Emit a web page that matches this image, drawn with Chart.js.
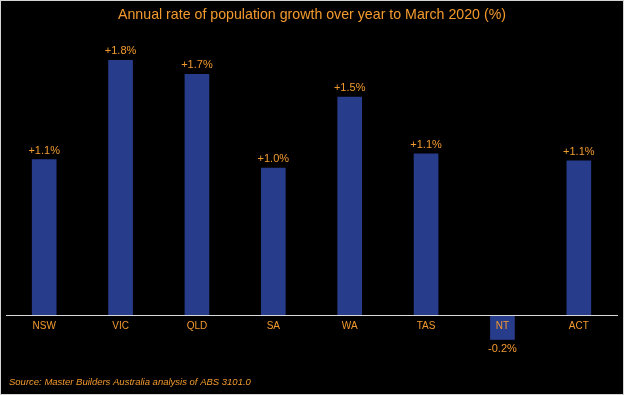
<!DOCTYPE html>
<html>
<head>
<meta charset="utf-8">
<script src="https://cdn.jsdelivr.net/npm/chart.js@4"></script>
<style>
  html, body { margin: 0; padding: 0; background: #000; }
  #wrap { width: 624px; height: 395px; }
</style>
</head>
<body>
<div id="wrap"><canvas id="barChart"></canvas></div>
<script>
const states = ["NSW", "VIC", "QLD", "SA", "WA", "TAS", "NT", "ACT"];
const growth = [1.10, 1.80, 1.70, 1.04, 1.54, 1.14, -0.17, 1.09]; // % over year to March 2020
const titleText = "Annual rate of population growth over year to March 2020 (%)";
const sourceText = "Source: Master Builders Australia analysis of ABS 3101.0";

const orange = "#F39A2E";
const barBlue = "#283C8C";

// background, frame, title and source note
const frame = {
  id: "frame",
  beforeDraw(chart) {
    const c = chart.ctx;
    c.save();
    c.fillStyle = "#000";
    c.fillRect(0, 0, chart.width, chart.height);
    c.restore();
  },
  afterDraw(chart) {
    const c = chart.ctx;
    c.save();
    c.strokeStyle = "#d4d4d4";
    c.lineWidth = 1;
    c.strokeRect(0.5, 0.5, chart.width - 1, chart.height - 1);
    c.fillStyle = orange;
    c.textBaseline = "middle";
    c.textAlign = "center";
    c.font = "14.2px 'Liberation Sans', Arial, sans-serif";
    c.fillText(titleText, chart.width / 2, 15);
    c.textAlign = "left";
    c.font = "italic 9.5px 'Liberation Sans', Arial, sans-serif";
    c.fillText(sourceText, 9, 382);
    c.restore();
  },
};

// +x.x% labels over / under each bar
const valueLabels = {
  id: "valueLabels",
  afterDatasetsDraw(chart) {
    const c = chart.ctx;
    const meta = chart.getDatasetMeta(0);
    c.save();
    c.fillStyle = orange;
    c.font = "11px 'Liberation Sans', Arial, sans-serif";
    c.textAlign = "center";
    c.textBaseline = "middle";
    meta.data.forEach((bar, i) => {
      const v = growth[i];
      const txt = (v >= 0 ? "+" : "") + v.toFixed(1) + "%";
      const y = v >= 0 ? bar.y - 9 : bar.y + 9;
      c.fillText(txt, bar.x, y);
    });
    c.restore();
  },
};

const ctx = document.getElementById("barChart").getContext("2d");
const barChart = new Chart(ctx, {
  type: "bar",
  data: {
    labels: states,
    datasets: [
      {
        data: growth,
        backgroundColor: barBlue,
        borderWidth: 0,
        barThickness: 24,
      },
    ],
  },
  options: {
    responsive: true,
    maintainAspectRatio: false,
    animation: false,
    layout: {
      padding: { top: 39, bottom: 30, left: 6, right: 7 },
    },
    scales: {
      x: {
        position: { y: 0 },
        grid: { display: false, drawTicks: false },
        border: { display: true, color: "#d9d9d9", width: 1, z: 1 },
        ticks: {
          z: 1,
          color: orange,
          padding: 5,
          font: { family: "'Liberation Sans', Arial, sans-serif", size: 10 },
        },
      },
      y: {
        display: false,
        min: -0.35,
        max: 1.95,
      },
    },
    plugins: {
      legend: { display: false },
      tooltip: { enabled: false },
    },
  },
  plugins: [frame, valueLabels],
});
</script>
</body>
</html>
